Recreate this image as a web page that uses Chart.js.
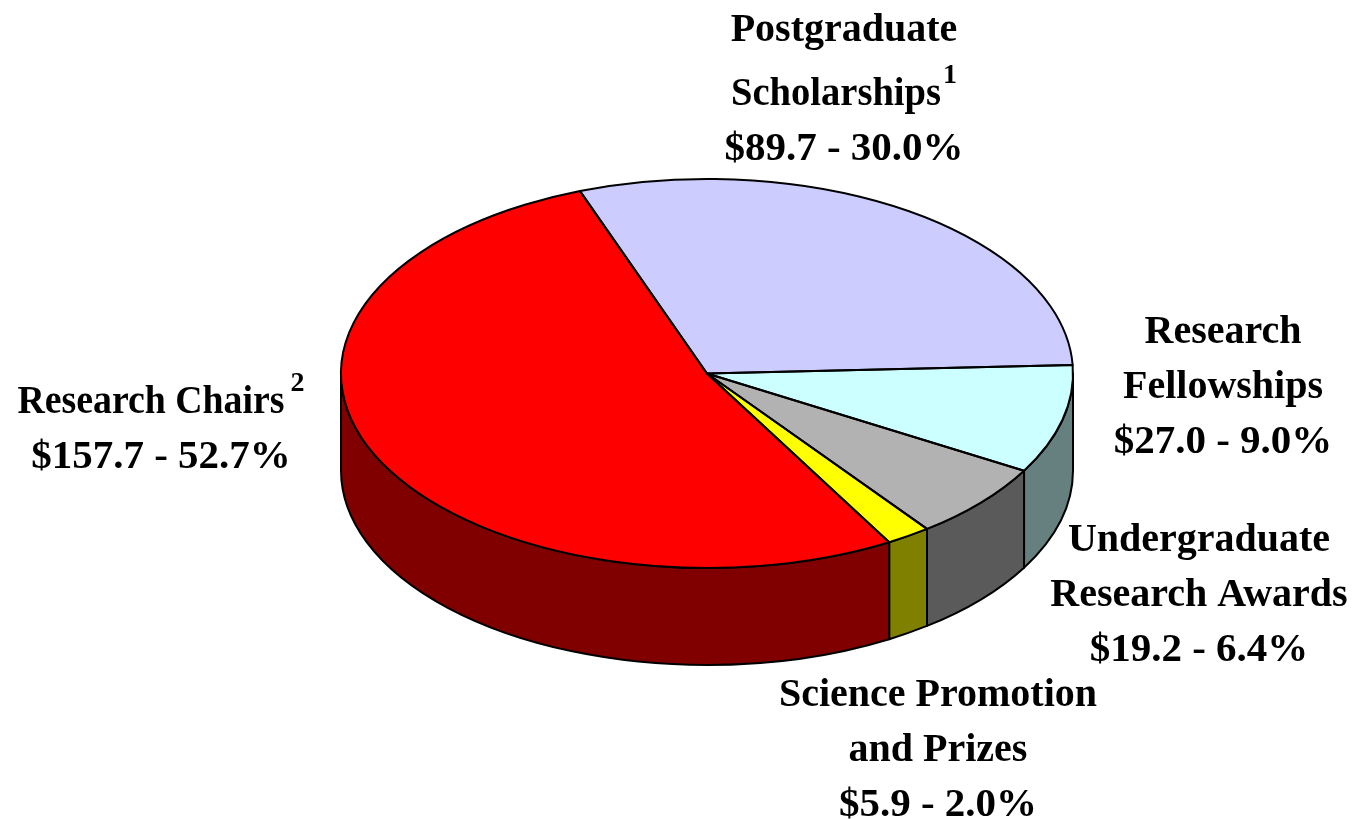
<!DOCTYPE html>
<html>
<head>
<meta charset="utf-8">
<style>html,body{margin:0;padding:0;background:#fff;overflow:hidden}canvas{display:block}</style>
<script src="https://cdn.jsdelivr.net/npm/chart.js@4/dist/chart.umd.min.js"></script>
</head>
<body>
<canvas id="c" width="1353" height="819"></canvas>
<script>
const categories = ['Postgraduate Scholarships','Research Fellowships','Undergraduate Research Awards','Science Promotion and Prizes','Research Chairs'];
const amounts = [89.7, 27.0, 19.2, 5.9, 157.7];
const percents = ['30.0','9.0','6.4','2.0','52.7'];
const nameLines = [['Postgraduate','Scholarships'],['Research','Fellowships'],['Undergraduate','Research Awards'],['Science Promotion','and Prizes'],['Research Chairs']];
const superscripts = ['1','','','','2'];
const topColors = ['#CCCCFF','#CCFFFF','#B2B2B2','#FFFF00','#FF0000'];
const sideColors = ['#666680','#668080','#5A5A5A','#808000','#800000'];

const labelCenters = [[844,41,[64,55]],[1223,343,[55,55]],[1199,551,[55,55]],[938,706,[55,55]],[161,413,[55]]];
const supLineWidths = [210,0,0,0,267];
const supGaps = [2,0,0,0,6];
const FONT = 'bold 40px "Liberation Serif", serif';
const VALUE_FONT = 'bold 41px "Liberation Serif", serif';
const SUP_FONT = 'bold 28px "Liberation Serif", serif';
const CY = 373.5, RY = 194.5, DEPTH = 97, RX = 366;
const TAU = Math.PI * 2;

function frame(chart){
  const a = chart.getDatasetMeta(0).data[0];
  return {cx:a.x, y0:a.y, k:RY/a.outerRadius, rx:a.outerRadius};
}
const pie3d = {
  id:'pie3d',
  beforeDatasetsDraw(chart){
    const ctx = chart.ctx, f = frame(chart);
    const arcs = chart.getDatasetMeta(0).data;
    ctx.save();
    ctx.lineWidth = 2; ctx.strokeStyle = '#000'; ctx.lineJoin = 'round';
    arcs.forEach((el,i)=>{
      [-TAU,0,TAU].forEach(sh=>{
        const a0 = Math.max(el.startAngle+sh,0), a1 = Math.min(el.endAngle+sh,Math.PI);
        if(a1<=a0) return;
        ctx.beginPath();
        ctx.ellipse(f.cx,CY,f.rx,RY,0,a0,a1);
        ctx.ellipse(f.cx,CY+DEPTH,f.rx,RY,0,a1,a0,true);
        ctx.closePath();
        ctx.fillStyle = sideColors[i];
        ctx.fill(); ctx.stroke();
      });
    });
    ctx.restore();
    ctx.save();
    ctx.translate(0,CY); ctx.scale(1,f.k); ctx.translate(0,-f.y0);
  },
  afterDatasetsDraw(chart){
    const ctx = chart.ctx, f = frame(chart);
    ctx.restore();
    ctx.save();
    ctx.lineWidth = 2; ctx.strokeStyle = '#000'; ctx.lineJoin = 'round';
    chart.getDatasetMeta(0).data.forEach(el=>{
      ctx.beginPath();
      ctx.moveTo(f.cx,CY);
      ctx.ellipse(f.cx,CY,f.rx,RY,0,el.startAngle,el.endAngle);
      ctx.closePath();
      ctx.stroke();
    });
    ctx.fillStyle = '#000';
    ctx.textBaseline = 'alphabetic';
    ctx.textAlign = 'left';
    nameLines.forEach((lines,i)=>{
      const [cx,base,gaps] = labelCenters[i];
      const all = lines.concat(['$'+amounts[i].toFixed(1)+' - '+percents[i]+'%']);
      let y = base;
      all.forEach((t,j)=>{
        const hasSup = superscripts[i] && j===lines.length-1;
        const font = j===lines.length ? VALUE_FONT : FONT;
        ctx.font = font;
        const w = hasSup ? supLineWidths[i] : ctx.measureText(t).width;
        ctx.font = SUP_FONT;
        const sw = hasSup ? ctx.measureText(superscripts[i]).width + supGaps[i] : 0;
        const x = cx-(w+sw)/2;
        ctx.font = font;
        ctx.fillText(t,x,y,w);
        if(hasSup){ ctx.font = SUP_FONT; ctx.fillText(superscripts[i],x+w+supGaps[i],y-22); }
        y += gaps[j]||0;
      });
    });
    ctx.restore();
  }
};
new Chart(document.getElementById('c'),{
  type:'pie',
  data:{labels:categories,datasets:[{data:amounts,backgroundColor:topColors,borderWidth:0,clip:false}]},
  options:{
    responsive:false,animation:false,
    rotation:-20.3,
    radius:RX,
    layout:{padding:{left:61}},
    plugins:{legend:{display:false},tooltip:{enabled:false},title:{display:false}}
  },
  plugins:[pie3d]
});
</script>
</body>
</html>
